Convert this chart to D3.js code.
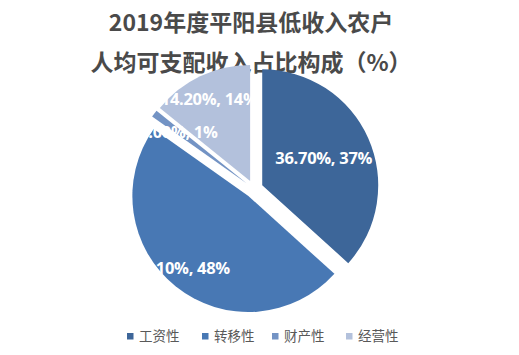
<!DOCTYPE html>
<html>
<head>
<meta charset="utf-8">
<script src="https://cdn.jsdelivr.net/npm/d3@7"></script>
<style>
  body { margin: 0; background: #fff; }
  svg { display: block; }
</style>
</head>
<body>
<div id="chart"></div>
<script>
// data
var titleLines = ["2019年度平阳县低收入农户", "人均可支配收入占比构成（%）"];
var categories = ["工资性", "转移性", "财产性", "经营性"];
var values = [36.70, 48.10, 1.00, 14.20];
var colors = ["#3d6699", "#4878b4", "#7393c4", "#b3c1dc"];

var width = 519, height = 355;
var cx = 254, cy = 189, radius = 116, explode = 9;
// label placement: fraction of radius and small angle nudge (degrees)
var labelPos = [0.58, 0.85, 0.74, 0.79];
var labelTurn = [0, 4, 0, -1];

var svg = d3.select("#chart")
  .append("svg")
    .attr("width", width)
    .attr("height", height);

// title
svg.append("g")
  .selectAll("text")
  .data(titleLines)
  .enter()
  .append("text")
    .attr("x", 251)
    .attr("y", function(d, i) { return 31 + i * 40; })
    .attr("text-anchor", "middle")
    .style("font-family", "'Noto Sans CJK SC', sans-serif")
    .style("font-weight", "700")
    .style("font-size", "23px")
    .style("fill", "#4a4a4a")
    .text(function(d) { return d; });

var pie = d3.pie().sort(null).value(function(d) { return d; });
var arcs = pie(values);
var arc = d3.arc().innerRadius(0).outerRadius(radius);

function midAngle(d) { return (d.startAngle + d.endAngle) / 2; }
function offset(a, r) {
  return [Math.sin(a) * r, -Math.cos(a) * r];
}
function labelXY(d, i) {
  var a = midAngle(d);
  var o = offset(a, explode);
  var l = offset(a + labelTurn[i] * Math.PI / 180, radius * labelPos[i]);
  return [o[0] + l[0], o[1] + l[1]];
}

var g = svg.append("g")
  .attr("transform", "translate(" + cx + "," + cy + ")");

g.selectAll("path")
  .data(arcs)
  .enter()
  .append("path")
    .attr("transform", function(d) {
      var o = offset(midAngle(d), explode);
      return "translate(" + o[0] + "," + o[1] + ")";
    })
    .attr("d", arc)
    .style("fill", function(d, i) { return colors[i]; });

// labels
g.selectAll("text.lbl")
  .data(arcs)
  .enter()
  .append("text")
    .attr("class", "lbl")
    .attr("x", function(d, i) { return labelXY(d, i)[0]; })
    .attr("y", function(d, i) { return labelXY(d, i)[1]; })
    .attr("dy", "0.35em")
    .attr("text-anchor", "middle")
    .style("font-family", "'Open Sans', sans-serif")
    .style("font-weight", "700")
    .style("font-size", "16.5px")
    .style("letter-spacing", "-0.3px")
    .style("fill", "#fff")
    .text(function(d) { return d.data.toFixed(2) + "%, " + Math.round(d.data) + "%"; });

// legend
var legendX = [127, 202, 272, 346];
var legend = svg.append("g")
  .selectAll("g")
  .data(categories)
  .enter()
  .append("g")
    .attr("transform", function(d, i) { return "translate(" + legendX[i] + ",333)"; });

legend.append("rect")
  .attr("width", 6.5)
  .attr("height", 6.5)
  .style("fill", function(d, i) { return colors[i]; });

legend.append("text")
  .attr("x", 12)
  .attr("y", 3.5)
  .attr("dy", "0.35em")
  .style("font-family", "'Noto Sans CJK SC', sans-serif")
  .style("font-size", "13.5px")
  .style("fill", "#595959")
  .text(function(d) { return d; });
</script>
</body>
</html>
